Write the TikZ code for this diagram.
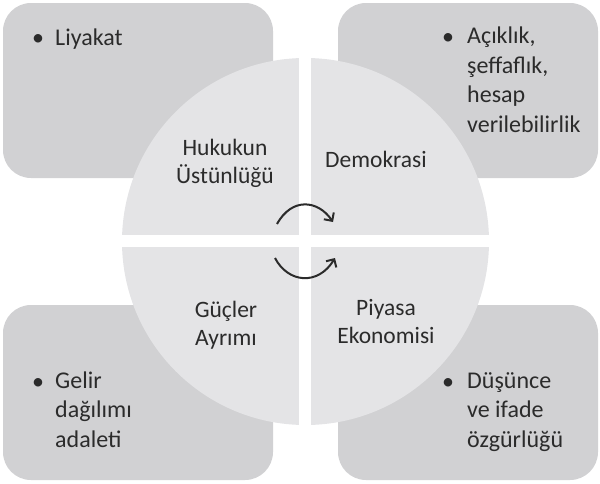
\documentclass[tikz,border=0pt]{standalone}
\usepackage{fontspec}
\setmainfont{Carlito}
\usetikzlibrary{arrows.meta}
\definecolor{boxgray}{HTML}{D1D1D3}
\definecolor{roundgray}{HTML}{E4E4E6}
\definecolor{ink}{HTML}{2B2B2B}
\tikzset{
  box/.style={fill=boxgray,rounded corners=28pt},
  part/.style={text=ink,align=center,inner sep=0pt,anchor=base,font=\fontsize{23.5}{28}\selectfont},
  item/.style={text=ink,align=left,inner sep=0pt,anchor=base west,font=\fontsize{24}{29.4}\selectfont},
  dot/.style={text=ink,inner sep=0pt,anchor=base,font=\fontsize{24}{28}\selectfont},
  turn/.style={draw=ink,line width=2pt,-{Straight Barb[length=6pt,width=12pt,line width=2pt]}}
}
\begin{document}
\begin{tikzpicture}[x=1pt,y=-1pt]
\useasboundingbox (0,0) rectangle (600,483);
% corner boxes
\fill[box] (3,3) rectangle (273,178);
\fill[box] (338,3) rectangle (598,178);
\fill[box] (3,305) rectangle (273,480);
\fill[box] (338,305) rectangle (598,480);
% the round part, cut in four
\fill[roundgray] (305.5,241.5) circle[radius=183.5];
\draw[white,line width=12pt] (305,50) -- (305,433);
\draw[white,line width=12pt] (115,241) -- (496,241);
% corner texts (base = last line)
\node[dot] (d1) at (38,45) {•};
\node[item] (liyakat) at (55,45) {Liyakat};
\node[dot] (d2) at (448,44) {•};
\node[item] (acik) at (467,132) {Açıklık,\\şeffaflık,\\hesap\\verilebilirlik};
\node[dot] (d3) at (38,389) {•};
\node[item] (gelir) at (55,447) {Gelir\\dağılımı\\adaleti};
\node[dot] (d4) at (448,389) {•};
\node[item] (dusunce) at (467,447) {Düşünce\\ve ifade\\özgürlüğü};
% circle texts
\node[part] (hukuk) at (225,183) {Hukukun\\Üstünlüğü};
\node[part] (demo) at (376,167) {Demokrasi};
\node[part] (guc) at (226,345) {Güçler\\Ayrımı};
\node[part] (piyasa) at (386,343) {Piyasa\\Ekonomisi};
% arrows in the middle
\coordinate (a1) at (277,224);
\coordinate (a2) at (333,222);
\coordinate (b1) at (275,258);
\coordinate (b2) at (335,258);
\draw[turn] (a1) .. controls (292,197) and (318,200) .. (a2);
\draw[turn] (b1) .. controls (288,283) and (318,286) .. (b2);
\end{tikzpicture}
\end{document}
